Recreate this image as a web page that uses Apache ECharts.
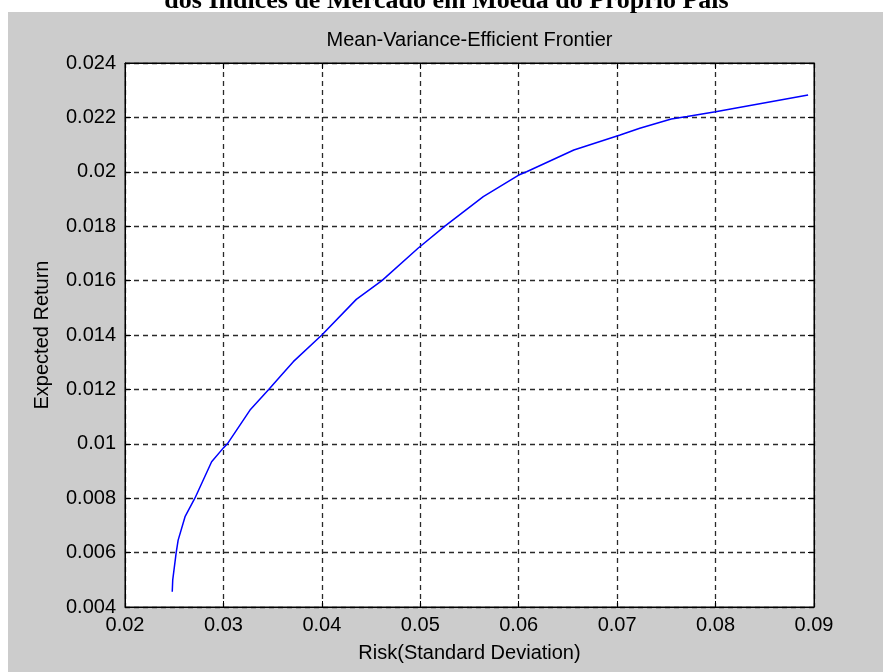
<!DOCTYPE html>
<html>
<head>
<meta charset="utf-8">
<script src="https://cdn.jsdelivr.net/npm/echarts@6/dist/echarts.min.js"></script>
<style>
html,body{margin:0;padding:0;background:#fff;}
#chart{width:883px;height:672px;}
</style>
</head>
<body>
<div id="chart"></div>
<script>
// Data
const riskValues = [0.0248, 0.02485, 0.0252, 0.0254, 0.0261, 0.0271, 0.0288, 0.0300, 0.0304, 0.0327, 0.0346, 0.0359, 0.0371, 0.0400, 0.0435, 0.0461, 0.0498, 0.0525, 0.0564, 0.0600, 0.0608, 0.0656, 0.0703, 0.0723, 0.0755, 0.0771, 0.0800, 0.0894];
const returnValues = [0.00456, 0.0050, 0.0060, 0.00646, 0.00732, 0.0080, 0.00934, 0.00985, 0.0100, 0.01124, 0.0120, 0.01253, 0.01302, 0.0140, 0.01531, 0.0160, 0.01720, 0.0180, 0.01909, 0.01988, 0.0200, 0.0208, 0.02135, 0.0216, 0.02194, 0.02203, 0.02221, 0.02282];
const pageTitle = 'dos Índices de Mercado em Moeda do Próprio País';
const chartTitle = 'Mean-Variance-Efficient Frontier';
const xName = 'Risk(Standard Deviation)';
const yName = 'Expected Return';

const points = riskValues.map((x, i) => [x, returnValues[i]]);
const FONT = 'Liberation Sans, Arial, sans-serif';
const fmt = v => String(parseFloat(v.toFixed(4)));

const chart = echarts.init(document.getElementById('chart'), null, {renderer: 'canvas'});
const gridLine = {show: true, lineStyle: {color: '#2a2a2a', type: [5, 4], width: 1.3}};
const tick = {show: true, inside: true, length: 6, lineStyle: {color: '#000'}};
chart.setOption({
  backgroundColor: '#ffffff',
  animation: false,
  graphic: [
    {type: 'rect', z: -100, silent: true, shape: {x: 8, y: 12, width: 875, height: 660}, style: {fill: '#cccccc'}},
    {type: 'text', x: 446.5, y: 1.5, style: {text: pageTitle, font: 'bold 26px "Liberation Serif", "Times New Roman", serif', fill: '#000', textAlign: 'center', textVerticalAlign: 'middle'}},
    {type: 'text', x: 469.5, y: 40, style: {text: chartTitle, font: '20px ' + FONT, fill: '#000', textAlign: 'center', textVerticalAlign: 'middle'}}
  ],
  grid: {left: 125, top: 63, right: 69, bottom: 65, show: true, backgroundColor: '#ffffff', borderColor: '#000', borderWidth: 1, containLabel: false},
  xAxis: [
    {type: 'value', min: 0.02, max: 0.09, interval: 0.01, position: 'bottom',
     name: xName, nameLocation: 'middle', nameGap: 36,
     nameTextStyle: {fontFamily: FONT, fontSize: 20, color: '#000'},
     axisLine: {show: true, onZero: false, lineStyle: {color: '#000'}},
     axisTick: tick, splitLine: gridLine,
     axisLabel: {fontFamily: FONT, fontSize: 20, color: '#000', margin: 8, formatter: fmt}},
    {type: 'value', min: 0.02, max: 0.09, interval: 0.01, position: 'top',
     axisLine: {show: true, onZero: false, lineStyle: {color: '#000'}},
     axisTick: tick, splitLine: {show: false}, axisLabel: {show: false}}
  ],
  yAxis: [
    {type: 'value', min: 0.004, max: 0.024, interval: 0.002, position: 'left',
     name: yName, nameLocation: 'middle', nameGap: 73, nameRotate: 90,
     nameTextStyle: {fontFamily: FONT, fontSize: 20, color: '#000'},
     axisLine: {show: true, onZero: false, lineStyle: {color: '#000'}},
     axisTick: tick, splitLine: gridLine,
     axisLabel: {fontFamily: FONT, fontSize: 20, color: '#000', margin: 9, formatter: fmt}},
    {type: 'value', min: 0.004, max: 0.024, interval: 0.002, position: 'right',
     axisLine: {show: true, onZero: false, lineStyle: {color: '#000'}},
     axisTick: tick, splitLine: {show: false}, axisLabel: {show: false}}
  ],
  series: [{
    type: 'line', xAxisIndex: 0, yAxisIndex: 0, data: points,
    showSymbol: false, symbol: 'none', smooth: false,
    lineStyle: {color: '#0000ff', width: 1.5}
  }]
});
</script>
</body>
</html>
